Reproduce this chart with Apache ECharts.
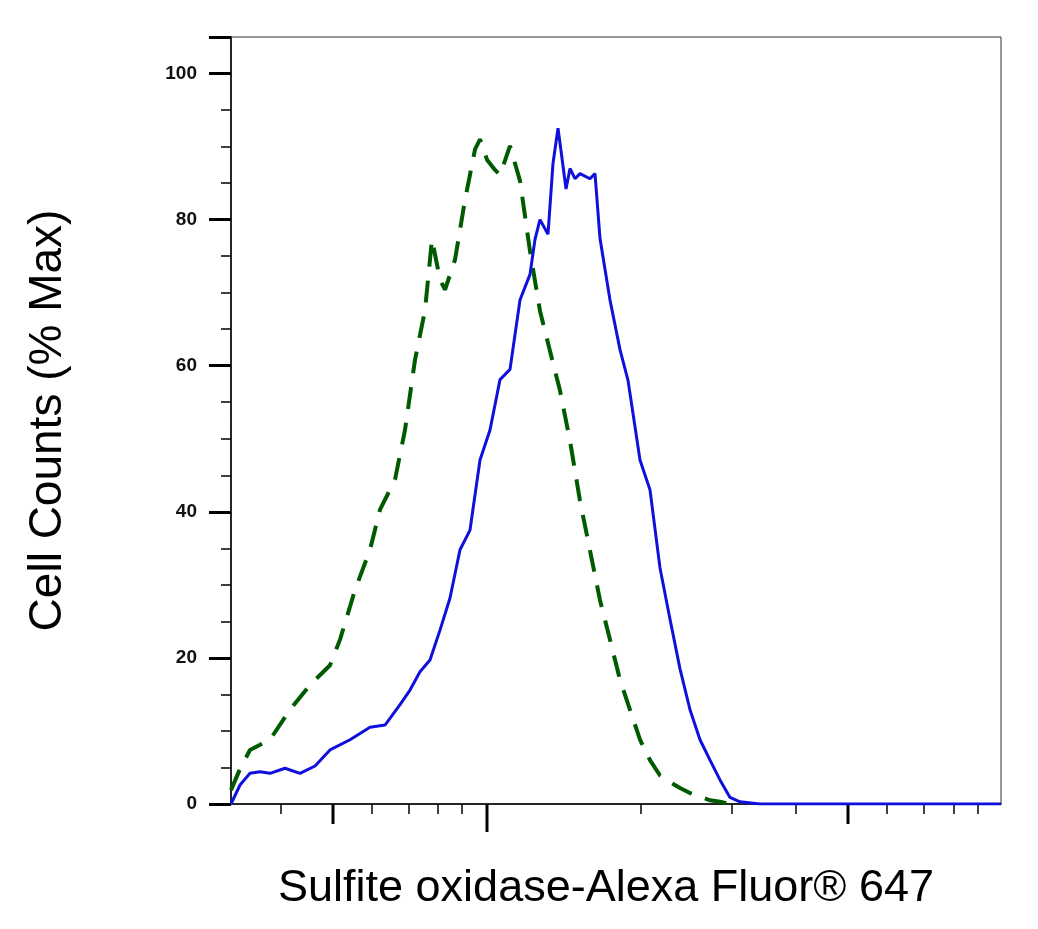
<!DOCTYPE html>
<html><head><meta charset="utf-8">
<script src="https://cdn.jsdelivr.net/npm/echarts@6/dist/echarts.min.js"></script>
<style>html,body{margin:0;padding:0;background:#fff}#c{width:1038px;height:929px}</style>
</head><body><div id="c"></div>
<script>
const blueSeries = [[0,0],[9,2.6],[19,4.2],[29,4.4],[39,4.2],[54,4.9],[69,4.2],[84,5.2],[99,7.4],[119,8.8],[139,10.5],[154,10.8],[169,13.6],[179,15.6],[189,18.1],[199,19.7],[209,23.8],[219,28.2],[229,34.8],[239,37.5],[249,47.1],[259,51.2],[269,58.1],[279,59.5],[289,69],[299,72.5],[304,77.3],[309,80],[317,78],[322,87.7],[327,92.5],[331,88.4],[335,84.2],[339,87],[344,85.6],[349,86.3],[359,85.6],[364,86.3],[369,77.4],[379,69],[389,62.2],[397,58],[409,47.1],[419,43],[429,32.3],[439,25.3],[449,18.5],[459,12.9],[469,8.8],[479,6],[489,3.3],[499,0.9],[509,0.3],[529,0],[770,0]];
const greenSeries = [[0,1.9],[9,4.8],[19,7.4],[39,8.8],[59,12.9],[79,16.3],[99,19.0],[109,22.5],[124,29.3],[139,34.8],[149,40.3],[164,44.4],[174,51.2],[184,60.8],[194,67.6],[201,77.3],[209,71.8],[214,70.4],[224,74.5],[234,82.7],[244,89.6],[249,91],[256,88.2],[264,86.8],[269,86.1],[279,90.1],[289,85.3],[299,75.7],[309,67.5],[319,62],[329,56.6],[339,49.7],[349,41.5],[359,34.7],[369,27.9],[379,22.5],[389,17],[399,12.9],[409,8.8],[419,6],[429,3.9],[439,3],[449,2.2],[459,1.5],[469,1],[479,0.5],[489,0.3],[499,0]];
// x tick positions (axis units) and kind: 0 minor, 1 medium, 2 major
const xTicks = [[50,0],[102,1],[141,0],[178,0],[207,0],[231,0],[256,2],[410,0],[501,0],[565,0],[617,1],[656,0],[693,0],[723,0],[747,0]];
const yTickLabels = ['0','20','40','60','80','100'];
const tickLen = [10,20,28];

const chart = echarts.init(document.getElementById('c'));
chart.setOption({
  animation:false,
  grid:{left:231,right:37,top:37,bottom:125,show:true,borderColor:'#333',borderWidth:1},
  xAxis:{type:'value',min:0,max:770,
    axisLine:{onZero:false,lineStyle:{color:'#000',width:1.5}},
    axisTick:{show:false},axisLabel:{show:false},splitLine:{show:false},
    name:'Sulfite oxidase-Alexa Fluor® 647',nameLocation:'middle',nameGap:62,
    nameTextStyle:{fontFamily:'Liberation Sans, Arial',fontSize:45,color:'#000',padding:[0,0,0,-20]}},
  yAxis:{type:'value',min:0,max:105,interval:20,
    axisLine:{show:true,lineStyle:{color:'#000',width:1.5}},
    axisTick:{show:true,inside:false,length:22,lineStyle:{width:3,color:'#000'}},
    minorTick:{show:true,splitNumber:4,length:10,lineStyle:{color:'#000',width:1.5}},
    splitLine:{show:false},
    axisLabel:{margin:34,fontFamily:'Liberation Sans, Arial',fontSize:19,fontWeight:'bold',color:'#111',
      formatter:v=>yTickLabels[v/20]!==undefined&&v%20===0?yTickLabels[v/20]:''},
    name:'Cell Counts (% Max)',nameLocation:'middle',nameGap:160,
    nameTextStyle:{fontFamily:'Liberation Sans, Arial',fontSize:46,color:'#000'}},
  series:[
    {type:'line',data:greenSeries,showSymbol:false,smooth:false,
      lineStyle:{color:'#005a00',width:4,type:[22,14]},z:2},
    {type:'line',data:blueSeries,showSymbol:false,
      lineStyle:{color:'#1010dd',width:3},z:3},
    {type:'custom',data:xTicks,clip:false,silent:true,
      renderItem:(params,api)=>{
        const p=api.coord([api.value(0),0]);
        const k=api.value(1);
        return {type:'line',shape:{x1:p[0],y1:p[1],x2:p[0],y2:p[1]+tickLen[k]},
          style:{stroke:'#000',lineWidth:k>0?3:1.5}};
      }}
  ]
});
</script></body></html>
